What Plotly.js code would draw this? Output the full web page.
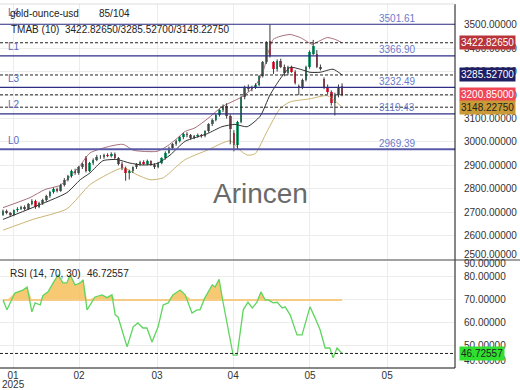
<!DOCTYPE html>
<html><head><meta charset="utf-8">
<script src="https://cdn.plot.ly/plotly-3.0.1.min.js"></script>
<style>html,body{margin:0;padding:0;background:#fff}#chart{width:520px;height:390px}</style>
</head><body><div id="chart"></div>
<script>
// ---- data ----
const opens  = [2690,2706,2698,2688,2708,2716,2722,2714,2736,2750,2724,2740,2752,2770,2788,2800,2792,2818,2840,2855,
2878,2866,2894,2930,2878,2910,2925,2938,2934,2945,2940,2950,2930,2908,2888,2868,2876,2892,2905,2914,
2908,2918,2904,2894,2912,2930,2955,2975,2990,3005,3020,3035,3028,3018,3026,3030,3024,3046,3075,3095,
3115,3135,3152,3110,3040,2985,3085,3190,3230,3224,3234,3244,3280,3340,3430,3340,3310,3345,3320,3292,
3318,3300,3240,3232,3265,3320,3375,3375,3320,3270,3235,3215,3165,3200,3240];
const highs  = [2712,2712,2702,2712,2722,2728,2730,2740,2756,2754,2745,2758,2775,2792,2806,2805,2822,2846,2860,2882,
2886,2898,2912,2940,2915,2930,2945,2944,2950,2952,2956,2955,2936,2915,2895,2882,2896,2910,2920,2922,
2925,2922,2910,2915,2935,2960,2980,2995,3010,3025,3040,3042,3034,3030,3036,3034,3050,3080,3100,3120,
3140,3160,3165,3118,3050,3090,3195,3240,3245,3240,3250,3285,3345,3430,3500,3345,3352,3355,3330,3325,
3325,3306,3245,3270,3325,3390,3435,3392,3330,3275,3245,3220,3210,3245,3250];
const lows   = [2685,2692,2680,2684,2702,2710,2708,2710,2730,2715,2718,2732,2745,2762,2780,2785,2788,2810,2832,2848,
2860,2860,2885,2870,2872,2902,2918,2928,2928,2935,2934,2925,2900,2880,2835,2840,2868,2885,2898,2902,
2900,2898,2885,2888,2905,2925,2950,2968,2984,2998,3012,3020,3010,3012,3018,3018,3020,3040,3068,3088,
3108,3128,3100,2990,2960,2970,3080,3182,3215,3216,3226,3238,3275,3332,3360,3290,3300,3315,3280,3285,
3295,3245,3200,3225,3258,3312,3370,3315,3305,3225,3205,3155,3113,3190,3195];
const closes = [2706,2698,2688,2708,2716,2722,2714,2736,2750,2724,2740,2752,2770,2788,2800,2792,2818,2840,2855,2878,
2866,2894,2906,2878,2910,2925,2938,2934,2945,2940,2950,2930,2908,2888,2868,2876,2892,2905,2914,2908,
2918,2904,2894,2912,2930,2955,2975,2990,3005,3020,3035,3028,3018,3026,3030,3024,3046,3075,3095,3115,
3135,3152,3110,3055,2985,3085,3190,3230,3224,3234,3244,3280,3340,3422,3368,3310,3345,3320,3292,3318,
3300,3252,3232,3265,3320,3385,3408,3320,3312,3230,3212,3165,3200,3235,3200.85];

// TMAB bands (bar position, value)
const upperX = [0,7.5,11.6,15.8,17.7,21.4,24.1,29.7,33.3,36.1,38.8,42.7,45.5,48.3,50.5,53.2,56.8,60.7,66.3,69.9,72.1,73.5,74.9,76.8,79.6,82.4,84.3,85.7,87.4,89.9,92.1,94];
const upperY = [2720,2763,2797,2815,2839,2900,2953,2982,2990,2965,2960,2960,2982,3016,3045,3060,3100,3150,3193,3239,3300,3380,3437,3450,3458,3445,3428,3416,3428,3445,3437,3422.8265];
const midX = [0,8.3,17.7,21.4,24.1,27.7,31.6,35.2,38.8,42.7,46.3,50.5,56.6,60.7,64.3,67.7,71.3,74,76.8,79.6,82.4,85.1,87.9,91.5,94];
const midY = [2670,2721,2784,2839,2868,2920,2925,2910,2902,2908,2944,3003,3035,3065,3075,3065,3110,3200,3268,3318,3310,3297,3297,3310,3285.527];
const lowX = [0,8.3,17.7,24.1,29.7,33.3,37.2,40.8,44.4,48.3,50.5,56.6,63,65.7,67.7,69.9,73.2,76.8,79.6,85.1,89.9,94];
const lowY = [2624,2670,2715,2818,2868,2890,2860,2839,2847,2898,2925,2965,3005,2965,2944,2950,3045,3142,3171,3184,3197,3148.2275];

// RSI (14, 70, 30)
const rsiX = [0,1.1,3.3,4.2,5.5,6.7,8.0,8.9,10.3,11.1,12.5,13.9,15.3,16.6,17.7,18.6,20.0,21.4,22.2,23.3,25.5,27.5,28.8,30.2,31.1,31.9,34.4,36.1,37.4,38.8,39.9,41.3,43.0,44.4,45.8,47.1,49.1,50.5,52.4,53.8,54.6,56.0,58.0,58.8,59.9,61.0,63.8,64.9,66.6,67.9,69.1,70.4,71.5,72.7,73.5,74.9,76.0,77.4,78.2,79.6,81.5,82.9,85.1,86.5,87.9,89.3,90.6,91.5,92.6,94];
const rsiY = [70,65.7,73,73.5,74.3,75.6,64.8,68.7,67.8,72,73.5,77.4,80.9,77.4,77.4,80.9,76.5,77.4,78.7,65.7,71.3,72.2,71,72.2,63.5,62.6,49.6,58.3,60,57.8,57.8,51.7,58.3,67.8,68.7,72.2,74.3,72.2,64.3,65.7,65.7,71,76.5,75.6,79,69,46,46,65.7,69,66.5,69,73.5,70,70,68.7,69,66.5,67,63.5,54.8,54.8,67,62.2,57,49.1,49.1,44.8,49.1,46.72557];
const rsiLevel = 70;
const rsiLast = 46.72557;

// levels
const levelValues = [3501.61, 3366.90, 3232.49, 3119.43, 2969.39];
const levelNames  = ['L4','L1','L3','L2','L0'];
const tmabValues  = [3422.8265, 3285.527, 3148.2275];
const lastPrice   = 3200.85;

// axis ticks
const xTickVals = [2.8, 21.1, 42.7, 63.8, 85.1, 106.5];
const xTickText = ['01','02','03','04','05','05'];
const yearLabel = '2025';
const priceTicks = [2600,2700,2800,2900,3000,3100,3200,3300,3400,3500];
const rsiTicks = [50,60,70,80];

// ---- build ----
const idx = opens.map((_, i) => i);
const GREEN = '#2fa57a', RED = '#e3405a';
const wx = [], wy = [];
idx.forEach(i => { wx.push(i, i, null); wy.push(lows[i], highs[i], null); });

const traces = [
  {type:'scatter', mode:'lines', x:upperX, y:upperY, xaxis:'x', yaxis:'y', line:{color:'#a8707a', width:1, shape:'spline', smoothing:0.6}, hoverinfo:'skip'},
  {type:'scatter', mode:'lines', x:midX, y:midY, xaxis:'x', yaxis:'y', line:{color:'#333', width:1, shape:'spline', smoothing:0.6}, hoverinfo:'skip'},
  {type:'scatter', mode:'lines', x:lowX, y:lowY, xaxis:'x', yaxis:'y', line:{color:'#ccb473', width:1, shape:'spline', smoothing:0.6}, hoverinfo:'skip'},
  {type:'scatter', mode:'lines', x:wx, y:wy, xaxis:'x', yaxis:'y', line:{color:'#3a3a3a', width:1}, connectgaps:false, hoverinfo:'skip'},
  {type:'bar', x:idx, base:opens, y:idx.map(i => closes[i]-opens[i]), width:0.72, xaxis:'x', yaxis:'y',
   marker:{color:idx.map(i => closes[i] >= opens[i] ? GREEN : RED), line:{width:0}}, hoverinfo:'skip'},
  // RSI
  {type:'scatter', mode:'lines', x:rsiX, y:rsiX.map(() => rsiLevel), xaxis:'x', yaxis:'y2', line:{color:'rgba(0,0,0,0)', width:0}, hoverinfo:'skip'},
  {type:'scatter', mode:'lines', x:rsiX, y:rsiY.map(v => Math.max(v, rsiLevel)), xaxis:'x', yaxis:'y2', fill:'tonexty', fillcolor:'rgba(247,192,90,0.85)', line:{color:'rgba(0,0,0,0)', width:0}, hoverinfo:'skip'},
  {type:'scatter', mode:'lines', x:[rsiX[0], rsiX[rsiX.length-1]], y:[rsiLevel, rsiLevel], xaxis:'x', yaxis:'y2', line:{color:'#f6cb86', width:2}, hoverinfo:'skip'},
  {type:'scatter', mode:'lines', x:rsiX, y:rsiY, xaxis:'x', yaxis:'y2', line:{color:'#5fd55f', width:1.3}, hoverinfo:'skip'}
];

const pyTop = 4, pyBot = 368, H = pyBot - pyTop;
const py = p => (pyBot - p) / H;
const px = p => p / 455;

const shapes = [];
levelValues.forEach((v, k) => shapes.push({type:'line', xref:'paper', yref:'y', x0:0, x1:1, y0:v, y1:v,
  line:{color: k === 4 ? '#5a5aa8' : '#2e2e86', width: k === 4 ? 2 : 1.2}}));
tmabValues.concat([lastPrice]).forEach(v => shapes.push({type:'line', xref:'paper', yref:'y', x0:0, x1:1, y0:v, y1:v,
  line:{color:'#222', width:1, dash:'3px,2px'}}));
shapes.push({type:'line', xref:'paper', yref:'y2', x0:0, x1:1, y0:rsiLast, y1:rsiLast, line:{color:'#222', width:1, dash:'3px,2px'}});
shapes.push({type:'line', xref:'paper', yref:'paper', x0:1, x1:1, y0:0, y1:1, line:{color:'#111', width:1}});
shapes.push({type:'line', xref:'paper', yref:'paper', x0:0, x1:520/455, y0:py(260), y1:py(260), line:{color:'#444', width:1}});
shapes.push({type:'line', xref:'paper', yref:'paper', x0:0, x1:1, y0:0, y1:0, line:{color:'#111', width:1}});
shapes.push({type:'line', xref:'paper', yref:'paper', x0:0, x1:1, y0:1, y1:1, line:{color:'#ddd', width:1}});

const F = 'Liberation Sans, Arial, sans-serif';
const ann = [];
const txt = (x, y, t, o={}) => ann.push(Object.assign({xref:'paper', yref:'paper', x:px(x), y:py(y), text:t, showarrow:false,
  xanchor:'left', yanchor:'middle', font:{family:F, size:10, color:'#222'}}, o));

levelValues.forEach((v, k) => {
  ann.push({xref:'paper', yref:'y', x:px(6), y:v, yshift: k === 0 ? 12 : 9, text:levelNames[k], showarrow:false, xanchor:'left', yanchor:'middle', font:{family:F, size:10, color:'#5b6bc0'}});
  ann.push({xref:'paper', yref:'y', x:px(397), y:v, yshift:6, text:v.toFixed(2), showarrow:false, xanchor:'center', yanchor:'middle', font:{family:F, size:10, color:'#6b7bc8'}});
});

txt(8, 13, 'gold-ounce-usd');
txt(97, 13, '85/104');
txt(9, 30, 'TMAB (10)');
txt(63, 30, tmabValues.map(v => v.toFixed(5)).join('/'));
txt(8, 273, 'RSI (14, 70, 30)');
txt(85, 273, rsiLast.toFixed(5));
ann.push({xref:'paper', yref:'paper', x:0.5*520/455, y:py(194), text:'Arincen', showarrow:false, xanchor:'center', yanchor:'middle', font:{family:F, size:28, color:'#6a6a6a'}});
// year under first month label
ann.push({xref:'x', yref:'paper', x:xTickVals[0], y:py(384), text:yearLabel, showarrow:false, xanchor:'center', yanchor:'middle', font:{family:F, size:10, color:'#333'}});

// edge axis labels
txt(462, 254, (2500).toFixed(5), {font:{family:F, size:10, color:'#333'}});
txt(462, 263, (90).toFixed(5), {font:{family:F, size:10, color:'#333'}});
txt(462, 360, (40).toFixed(5), {font:{family:F, size:10, color:'#333'}});

const tag = (yref, v, bg, fg) => ann.push({xref:'paper', yref:yref, x:px(459), y:v, text:v.toFixed(5), showarrow:false, xanchor:'left', yanchor:'middle',
  bgcolor:bg, borderpad:1, font:{family:F, size:10, color:fg}});
tag('y', tmabValues[0], '#b8343a', '#fff');
tag('y', tmabValues[1], '#1e1e64', '#fff');
tag('y', lastPrice, '#f04656', '#fff');
tag('y', tmabValues[2], '#c99a35', '#222');
tag('y2', rsiLast, '#2fe02f', '#222');

const layout = {
  width:520, height:390,
  margin:{l:0, r:65, t:pyTop, b:390-pyBot},
  paper_bgcolor:'#fff', plot_bgcolor:'#fff',
  showlegend:false, barmode:'overlay', bargap:0,
  font:{family:F, size:10, color:'#333'},
  xaxis:{anchor:'y2', range:[-0.83, 125.3], tickvals:xTickVals, ticktext:xTickText, showgrid:true, gridcolor:'#ececec',
    zeroline:false, showline:false, ticks:'', tickfont:{family:F, size:10, color:'#333'}, fixedrange:true},
  yaxis:{domain:[py(260), 1], side:'right', range:[2497, 3588], tickvals:priceTicks, tickformat:'.5f', showgrid:true, gridcolor:'#ececec',
    zeroline:false, showline:false, ticks:'outside', ticklen:6, tickcolor:'rgba(0,0,0,0)', tickfont:{family:F, size:10, color:'#333'}, fixedrange:true},
  yaxis2:{domain:[0, py(262)], side:'right', range:[40.4, 86.5], tickvals:rsiTicks, tickformat:'.5f', showgrid:true, gridcolor:'#ececec',
    zeroline:false, showline:false, ticks:'outside', ticklen:6, tickcolor:'rgba(0,0,0,0)', tickfont:{family:F, size:10, color:'#333'}, fixedrange:true},
  shapes:shapes, annotations:ann
};

Plotly.newPlot('chart', traces, layout, {displayModeBar:false, staticPlot:true});
</script></body></html>
